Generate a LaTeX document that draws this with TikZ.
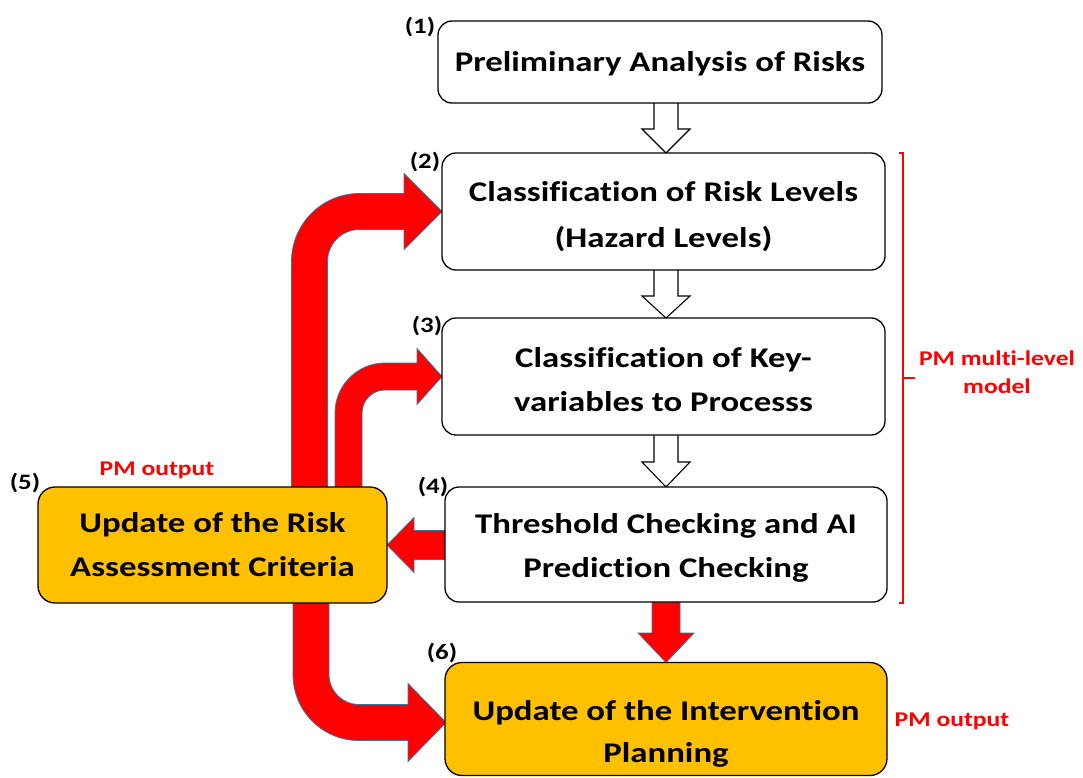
\documentclass[tikz,border=0pt]{standalone}
\usepackage{fontspec}
\setmainfont{Carlito}[FakeStretch=1.22, Ligatures=NoCommon]
\usetikzlibrary{calc}
\definecolor{orng}{HTML}{FFC000}
\definecolor{abl}{HTML}{41719C}
\pgfdeclarelayer{bg}
\pgfsetlayers{bg,main}
\newcommand{\dn}[1]{\rule{0pt}{#1}}
\begin{document}
\begin{tikzpicture}[x=1pt,y=-1pt,
 box/.style={draw=black, line width=1.3pt, rounded corners=14pt, fill=white, inner sep=0pt, outer sep=0pt, align=center, font=\bfseries\fontsize{28.5}{44}\selectfont},
 obox/.style={box, fill=orng, rounded corners=17pt},
 redarrow/.style={fill=red, draw=abl, line width=0.8pt, line join=miter},
 hollow/.style={fill=white, draw=black, line width=1.1pt, line join=miter},
 numlbl/.style={font=\bfseries\fontsize{22}{26}\selectfont, inner sep=0pt},
 pmlbl/.style={text=red, font=\bfseries\fontsize{21}{28}\selectfont, inner sep=0pt, align=center},
 brk/.style={draw=red, line width=1.8pt}]
\useasboundingbox (0,0) rectangle (1083,777);

% boxes
\node[box, minimum width=444pt, minimum height=82pt] (b1) at (660,62) {\dn{23pt}Preliminary Analysis of Risks};
\node[box, minimum width=443pt, minimum height=117pt] (b2) at (663.5,211.5) {\dn{30pt}Classification of Risk Levels\\[2pt](Hazard Levels)};
\node[box, minimum width=443pt, minimum height=117pt] (b3) at (663.5,376.5) {\dn{26pt}Classification of Key-\\variables to Processs};
\node[box, minimum width=442pt, minimum height=115pt] (b4) at (666,544.5) {\dn{27pt}Threshold Checking and AI\\Prediction Checking};
\node[obox, minimum width=349pt, minimum height=116pt] (b5) at (212.5,545) {Update of the Risk\\Assessment Criteria};
\node[obox, minimum width=442pt, minimum height=113pt] (b6) at (666,719) {\dn{50pt}Update of the Intervention\\[-2pt]Planning};

% number labels
\node[numlbl] (n1) at (420,27) {(1)};
\node[numlbl] (n2) at (425,162) {(2)};
\node[numlbl] (n3) at (427,326) {(3)};
\node[numlbl] (n4) at (433,487) {(4)};
\node[numlbl] (n5) at (25,483) {(5)};
\node[numlbl] (n6) at (442,653) {(6)};

% PM labels
\node[pmlbl] (pm5) at (157,470) {PM output};
\node[pmlbl] (pm6) at (952,721) {PM output};
\node[pmlbl] (pmm) at (997,372) {PM multi-level\\model};

\coordinate (t6) at (446,722.5);

\begin{pgfonlayer}{bg}
% hollow arrows
\filldraw[hollow] (654,95) -- (654,129) -- (642,129) -- (b2.north -| 666,0) -- (690,129) -- (678,129) -- (678,95) -- cycle;
\filldraw[hollow] (654,262) -- (654,296) -- (642,296) -- (b3.north -| 666,0) -- (690,296) -- (678,296) -- (678,262) -- cycle;
\filldraw[hollow] (654,427) -- (654,462) -- (642,462) -- (b4.north -| 666,0) -- (690,462) -- (678,462) -- (678,427) -- cycle;
% red arrow 5 -> 2
\filldraw[redarrow] (291.5,495) -- (291.5,261.5) .. controls (291.5,223.9) and (321.9,193.5) .. (359.5,193.5) -- (404,193.5) -- (404,173.5) -- (b2.west) -- (404,249.5) -- (404,229.5) -- (359.5,229.5) .. controls (341.8,229.5) and (327.5,243.8) .. (327.5,261.5) -- (327.5,495) -- cycle;
% red arrow 5 -> 3
\filldraw[redarrow] (335,495) -- (335,413) .. controls (335,385.4) and (357.4,363) .. (385,363) -- (417,363) -- (417,348.5) -- (b3.west) -- (417,404.5) -- (417,390) -- (385,390) .. controls (372.3,390) and (362,400.3) .. (362,413) -- (362,495) -- cycle;
% red arrow 5 -> 6
\filldraw[redarrow] (293,595) -- (293,674.5) .. controls (293,711) and (322.5,740.5) .. (359,740.5) -- (408,740.5) -- (408,761.5) -- (t6) -- (408,683.5) -- (408,704.5) -- (359,704.5) .. controls (342.4,704.5) and (329,691.1) .. (329,674.5) -- (329,595) -- cycle;
% red arrow 4 -> 5
\filldraw[redarrow] (452,530.5) -- (414,530.5) -- (414,517.5) -- (b5.east) -- (414,572.5) -- (414,559.5) -- (452,559.5) -- cycle;
% red arrow 4 -> 6
\filldraw[redarrow] (652,595) -- (652,633) -- (638,633) -- (b6.north) -- (694,633) -- (680,633) -- (680,595) -- cycle;
\end{pgfonlayer}

% bracket
\draw[brk] (899,153) -- (903,153) -- (903,603) -- (899,603);
\draw[brk] (903,378) -- (915,378);
\end{tikzpicture}
\end{document}
